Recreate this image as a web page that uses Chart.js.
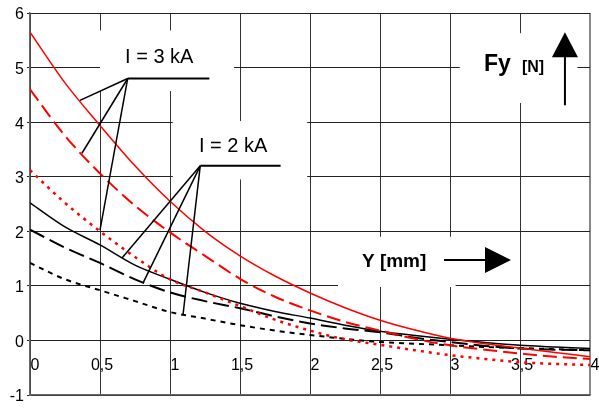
<!DOCTYPE html>
<html>
<head>
<meta charset="utf-8">
<script src="https://cdn.jsdelivr.net/npm/chart.js@4/dist/chart.umd.min.js"></script>
<style>
  html, body { margin: 0; padding: 0; background: #fff; }
  #wrap { width: 599px; height: 410px; }
</style>
</head>
<body>
<div id="wrap"><canvas id="fyChart" width="599" height="410"></canvas></div>
<script>
// Y [mm]
const yPos = [0, 0.25, 0.5, 0.75, 1, 1.25, 1.5, 1.75, 2, 2.25, 2.5, 2.75, 3, 3.25, 3.5, 3.75, 4]
// Fy [N], I = 3 kA (red)
const fy3kA_solid = [5.65, 4.72, 3.94, 3.2, 2.55, 2.0, 1.55, 1.18, 0.87, 0.6, 0.37, 0.19, 0.04, -0.06, -0.14, -0.22, -0.3]
const fy3kA_dash = [4.6, 3.75, 3.06, 2.47, 1.98, 1.55, 1.13, 0.8, 0.55, 0.34, 0.18, 0.03, -0.09, -0.17, -0.24, -0.3, -0.34]
const fy3kA_dot = [3.12, 2.52, 2.0, 1.53, 1.12, 0.88, 0.63, 0.38, 0.18, 0.02, -0.08, -0.18, -0.27, -0.34, -0.4, -0.43, -0.45]
// Fy [N], I = 2 kA (black)
const fy2kA_solid = [2.52, 2.08, 1.75, 1.38, 1.12, 0.88, 0.68, 0.53, 0.41, 0.28, 0.17, 0.09, 0.02, -0.04, -0.09, -0.12, -0.15]
const fy2kA_dash = [2.03, 1.7, 1.42, 1.12, 0.88, 0.72, 0.59, 0.44, 0.31, 0.22, 0.15, 0.05, -0.03, -0.1, -0.15, -0.17, -0.18]
const fy2kA_dot = [1.42, 1.12, 0.92, 0.72, 0.52, 0.4, 0.28, 0.18, 0.1, 0.03, -0.03, -0.06, -0.09, -0.12, -0.14, -0.16, -0.18]

// tick labels
const xTicks = [0, 0.5, 1, 1.5, 2, 2.5, 3, 3.5, 4]
const xTickLabels = ['0', '0,5', '1', '1,5', '2', '2,5', '3', '3,5', '4']
const yTickLabels = ['-1', '0', '1', '2', '3', '4', '5', '6']

const FONT = "'Liberation Sans', Arial, Helvetica, sans-serif"

function pts (arr) {
  return arr.map((v, i) => ({ x: yPos[i], y: v }))
}

function line (label, arr, color, width, dash) {
  return {
    label: label,
    data: pts(arr),
    borderColor: color,
    borderWidth: width,
    borderDash: dash,
    pointRadius: 0,
    fill: false,
    cubicInterpolationMode: 'monotone'
  }
}

// white label areas that hide the grid (data units: x0, x1, yTop, yBottom)
const boxes = [
  [0.5, 1.457, 5.68, 4.57],
  [1.02, 1.98, 4.02, 2.95],
  [2.2, 3.04, 1.9, 0.98],
  [3.07, 3.91, 5.63, 4.35]
]

// labels with leader lines (data units)
const callouts = [
  { text: 'I = 3 kA', tx: 0.679, ty: 5.08, ax: 0.698, ay: 4.80, ux: 1.281,
    ends: [[0.357, 4.40], [0.371, 3.43], [0.5, 2.02]] },
  { text: 'I = 2 kA', tx: 1.207, ty: 3.45, ax: 1.216, ay: 3.20, ux: 1.79,
    ends: [[0.657, 1.51], [0.807, 1.05], [1.093, 0.47]] }
]

const overlay = {
  id: 'overlay',
  beforeDatasetsDraw (chart) {
    const { ctx } = chart
    const xs = chart.scales.x
    const ys = chart.scales.y
    ctx.save()
    ctx.fillStyle = '#fff'
    boxes.forEach(b => {
      const x0 = xs.getPixelForValue(b[0])
      const x1 = xs.getPixelForValue(b[1])
      const y0 = ys.getPixelForValue(b[2])
      const y1 = ys.getPixelForValue(b[3])
      ctx.fillRect(x0, y0, x1 - x0, y1 - y0)
    })
    // x tick labels sit inside the plot, between 0 and -1
    ctx.fillStyle = '#000'
    ctx.font = '16px ' + FONT
    ctx.textAlign = 'center'
    ctx.textBaseline = 'alphabetic'
    const by = ys.getPixelForValue(-0.55)
    xTicks.forEach((v, i) => {
      const off = xTickLabels[i].indexOf(',') >= 0 ? 2 : 5
      ctx.fillText(xTickLabels[i], xs.getPixelForValue(v) + off, by)
    })
    ctx.restore()
  },
  afterDatasetsDraw (chart) {
    const { ctx } = chart
    const xs = chart.scales.x
    const ys = chart.scales.y
    const X = v => xs.getPixelForValue(v)
    const Y = v => ys.getPixelForValue(v)
    ctx.save()
    ctx.strokeStyle = '#000'
    ctx.fillStyle = '#000'

    callouts.forEach(c => {
      ctx.font = '20px ' + FONT
      ctx.textAlign = 'left'
      ctx.fillText(c.text, X(c.tx), Y(c.ty))
      ctx.lineWidth = 2
      ctx.beginPath()
      ctx.moveTo(X(c.ax), Y(c.ay))
      ctx.lineTo(X(c.ux), Y(c.ay))
      ctx.stroke()
      ctx.lineWidth = 1.5
      c.ends.forEach(e => {
        ctx.beginPath()
        ctx.moveTo(X(c.ax), Y(c.ay))
        ctx.lineTo(X(e[0]), Y(e[1]))
        ctx.stroke()
      })
    })

    // Y axis name with arrow
    ctx.font = 'bold 19px ' + FONT
    ctx.fillText('Y [mm]', X(2.371), Y(1.346))
    ctx.lineWidth = 2
    ctx.beginPath()
    ctx.moveTo(X(2.957), Y(1.474))
    ctx.lineTo(X(3.27), Y(1.474))
    ctx.stroke()
    ctx.beginPath()
    ctx.moveTo(X(3.25), Y(1.474) - 13)
    ctx.lineTo(X(3.436), Y(1.474))
    ctx.lineTo(X(3.25), Y(1.474) + 13)
    ctx.closePath()
    ctx.fill()

    // Fy axis name with arrow
    ctx.font = 'bold 23px ' + FONT
    ctx.fillText('Fy', X(3.243), Y(4.933))
    ctx.font = 'bold 16px ' + FONT
    ctx.fillText('[N]', X(3.514), Y(4.924))
    ctx.beginPath()
    ctx.moveTo(X(3.821), Y(4.31))
    ctx.lineTo(X(3.821), Y(5.2))
    ctx.stroke()
    ctx.beginPath()
    ctx.moveTo(X(3.821) - 13, Y(5.19))
    ctx.lineTo(X(3.821), Y(5.647))
    ctx.lineTo(X(3.821) + 13, Y(5.19))
    ctx.closePath()
    ctx.fill()
    ctx.restore()
  }
}

const config = {
  type: 'line',
  data: {
    datasets: [
      line('3 kA a', fy3kA_solid, '#ff0000', 1.5, []),
      line('3 kA b', fy3kA_dash, '#ff0000', 2, [14, 6]),
      line('3 kA c', fy3kA_dot, '#ff0000', 2.5, [3, 5]),
      line('2 kA a', fy2kA_solid, '#000000', 1.5, []),
      line('2 kA b', fy2kA_dash, '#000000', 2, [16, 6]),
      line('2 kA c', fy2kA_dot, '#000000', 2, [5, 5])
    ]
  },
  options: {
    responsive: false,
    animation: false,
    layout: { padding: { top: 13, right: 9, left: 0, bottom: 0 } },
    plugins: {
      legend: { display: false },
      tooltip: { enabled: false }
    },
    scales: {
      x: {
        type: 'linear',
        min: 0,
        max: 4,
        ticks: { stepSize: 0.5, display: false },
        grid: {
          drawTicks: false,
          color: ctx => (ctx.tick && ctx.tick.value === 4) ? '#888' : '#333',
          lineWidth: ctx => (ctx.tick && ctx.tick.value === 4) ? 2 : 1
        },
        border: { color: '#666', width: 1.5 },
        afterFit: scale => { scale.height = 15 }
      },
      y: {
        min: -1,
        max: 6,
        ticks: {
          stepSize: 1,
          color: '#000',
          padding: 3,
          labelOffset: 2,
          font: { size: 16, family: FONT },
          callback: (v, i) => yTickLabels[i]
        },
        grid: { color: '#222', tickLength: 3 },
        border: { color: '#666', width: 1.5 },
        afterFit: scale => { scale.width = 30 }
      }
    }
  },
  plugins: [overlay]
}

new Chart(document.getElementById('fyChart'), config)
</script>
</body>
</html>
